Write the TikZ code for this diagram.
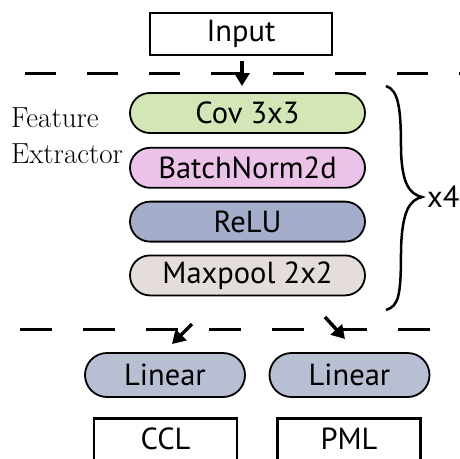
\documentclass[tikz,border=0pt]{standalone}
\usepackage{fontspec}
\setsansfont{PT Sans}
\usepackage{tikz}
\usetikzlibrary{shapes,arrows,arrows.meta,positioning}
\tikzstyle{arrow} = [line width=3.5pt,-{Triangle[width=15pt,length=13pt]}]

\definecolor{covgreen}{RGB}{212,230,181}
\definecolor{bnpink}{RGB}{235,195,232}
\definecolor{relublue}{RGB}{164,174,203}
\definecolor{poolgrey}{RGB}{229,221,217}
\definecolor{linblue}{RGB}{185,191,211}

\begin{document}
\begin{tikzpicture}[
    x=1pt, y=-1pt,
    every node/.style={font=\sffamily\fontsize{30.5}{32}\selectfont},
    layer/.style={rounded rectangle, draw, line width=1.8pt, minimum width=235pt, minimum height=40pt, inner sep=0pt},
    head/.style={rounded rectangle, draw, line width=1.8pt, fill=linblue, minimum width=160pt, minimum height=44pt, inner sep=0pt},
    loss/.style={draw, line width=2.5pt, minimum width=143pt, inner sep=0pt, text height=31pt, text depth=42pt, anchor=north},
    cut/.style={line width=3pt, dash pattern=on 31pt off 31pt}
]
\useasboundingbox (0,0) rectangle (460,458);
\clip (0,0) rectangle (460,458);

% input
\node[draw, line width=2.5pt, minimum width=182pt, minimum height=42pt, inner sep=0pt] (input) at (241,34) {Input};

% feature extractor
\node[layer, fill=covgreen] (cov) at (247.5,113) {Cov 3x3};
\node[layer, fill=bnpink, below=13pt of cov] (bn) {BatchNorm2d};
\node[layer, fill=relublue, below=12pt of bn] (relu) {ReLU};
\node[layer, fill=poolgrey, below=12pt of relu] (pool) {Maxpool 2x2};

\node[font=\rmfamily\fontsize{29}{30}\selectfont, anchor=base west, inner sep=0pt] (feat) at (11,127) {Feature};
\node[font=\rmfamily\fontsize{29}{30}\selectfont, anchor=base west, inner sep=0pt] (extr) at (11,163) {Extractor};

% x4 brace
\draw[line width=2.5pt] (386,86) .. controls (399,90) and (401,110) .. (401,150)
    .. controls (402,185) and (410,194) .. (422,197)
    .. controls (410,200) and (402,210) .. (401,250)
    .. controls (401,295) and (399,306) .. (386,310);
\node[anchor=west, inner sep=0pt] (rep) at (427,197) {x4};

% split lines
\draw[cut] (25,73) -- (470,73);
\draw[cut, dash pattern=on 32pt off 31pt] (20,329) -- (470,329);

% heads
\node[head] (lin1) at (165,375) {Linear};
\node[head] (lin2) at (349.5,375) {Linear};
\node[loss] (ccl) at (165.5,417) {CCL};
\node[loss] (pml) at (349,417) {PML};

% arrows
\coordinate (s0) at (242,61);
\coordinate (t0) at (242,86);
\coordinate (s1) at (192,324);
\coordinate (t1) at (172,344);
\coordinate (s2) at (325,317);
\coordinate (t2) at (345,339);
\draw[arrow] (s0) -- (t0);
\draw[arrow] (s1) -- (t1);
\draw[arrow] (s2) -- (t2);
\end{tikzpicture}
\end{document}
